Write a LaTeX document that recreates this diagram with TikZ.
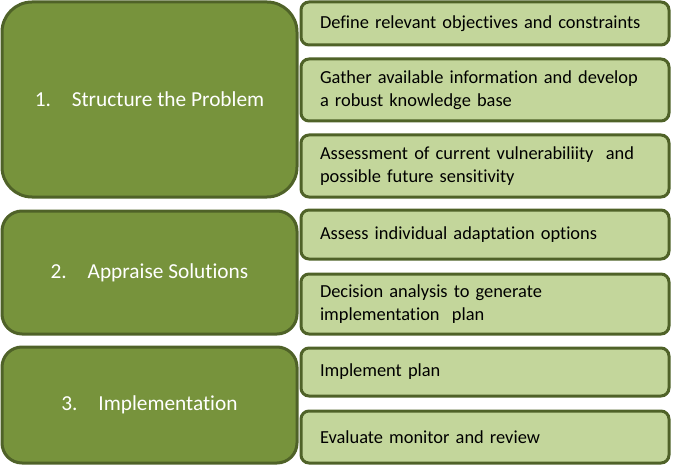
\documentclass[tikz,border=0pt]{standalone}
\usepackage{fontspec}
\setmainfont{Carlito}[RawFeature=-liga]
\definecolor{dk}{HTML}{4F6228}
\definecolor{olive}{HTML}{77933C}
\definecolor{pale}{HTML}{C3D69B}
\begin{document}
\begin{tikzpicture}[x=1pt,y=-1pt,
  bigbox/.style={draw=dk, fill=olive, line width=3pt, rounded corners=#1, text=white,
    font=\fontsize{21.33}{26}\selectfont, minimum width=295pt, inner sep=0pt},
  smallbox/.style={draw=dk, fill=pale, line width=3pt, rounded corners=8pt, text width=330pt,
    align=left, minimum width=368pt, inner sep=0pt, font=\fontsize{18.4}{22.5}\selectfont}]
\useasboundingbox (0,0) rectangle (674,465);
\node[bigbox=30pt, minimum height=195pt] (b1) at (149.5,99.5) {\makebox[37pt][l]{1.}Structure the Problem};
\node[bigbox=20pt, minimum height=123pt] (b2) at (149.5,272.5) {\makebox[37pt][l]{2.}Appraise Solutions};
\node[bigbox=20pt, minimum height=116pt] (b3) at (149.5,405) {\makebox[37pt][l]{3.}Implementation};
\node[smallbox, minimum height=43pt] (s1) at (485,23.5) {Define relevant objectives and constraints};
\node[smallbox, minimum height=62pt] (s2) at (485,90) {Gather available information and develop\\a robust knowledge base};
\node[smallbox, minimum height=62pt] (s3) at (485,166) {Assessment of current vulnerabiliity\ \ and\\possible future sensitivity};
\node[smallbox, minimum height=49pt] (s4) at (485,234.5) {Assess individual adaptation options};
\node[smallbox, minimum height=60pt] (s5) at (485,304) {Decision analysis to generate\\implementation\ \ plan};
\node[smallbox, minimum height=48pt] (s6) at (485,372) {Implement plan};
\node[smallbox, minimum height=52pt] (s7) at (485,437) {Evaluate monitor and review};
\end{tikzpicture}
\end{document}
